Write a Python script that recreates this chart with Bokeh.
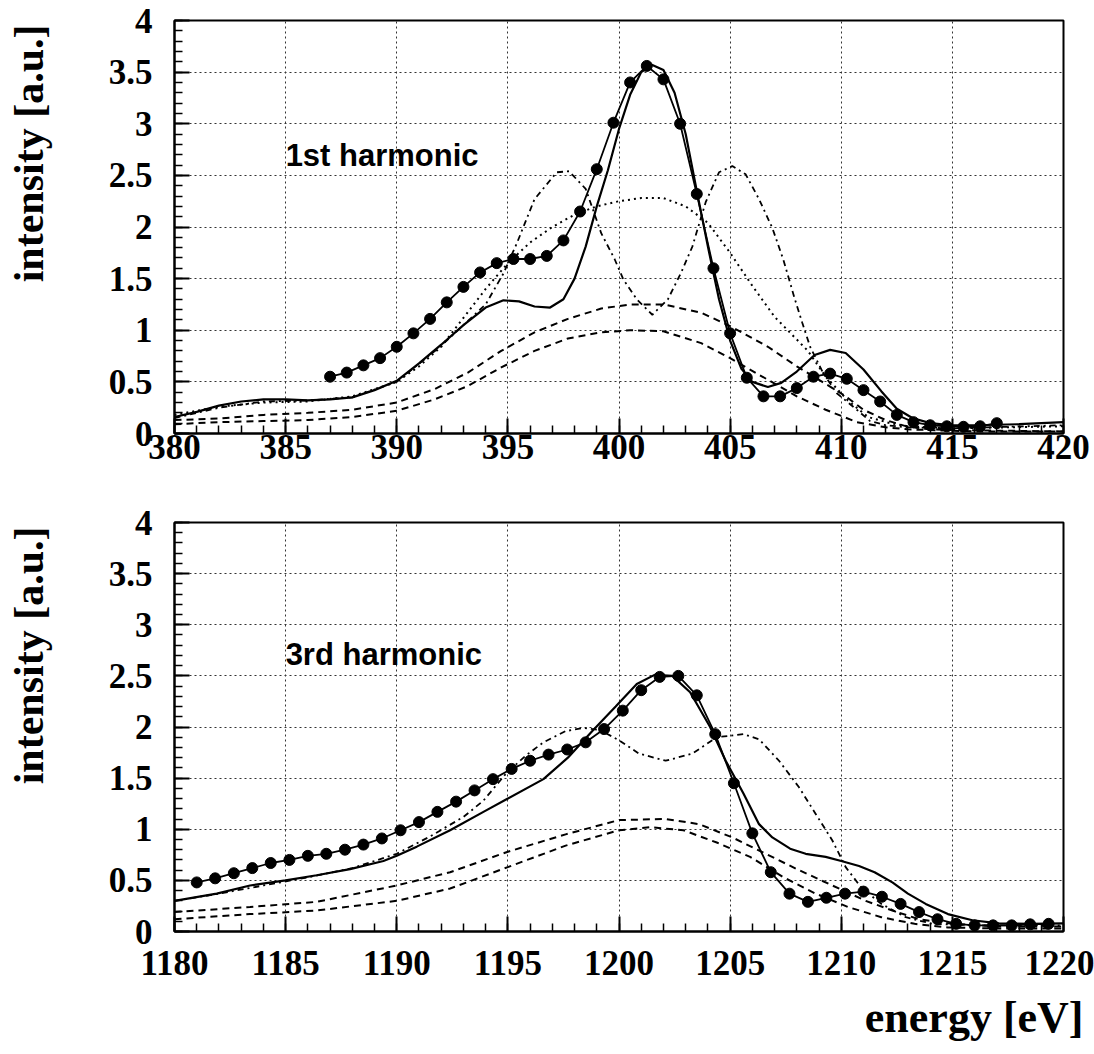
from bokeh.plotting import figure
from bokeh.models import FixedTicker, Label, Title
from bokeh.layouts import column
from bokeh.embed import file_html
from bokeh.resources import INLINE

# ---------------- data: 1st harmonic ----------------
top_pts_e = [387.0, 387.75, 388.5, 389.25, 390.0, 390.75, 391.5, 392.25, 393.0, 393.75,
             394.5, 395.25, 396.0, 396.75, 397.5, 398.25, 399.0, 399.75, 400.5, 401.25,
             402.0, 402.75, 403.5, 404.25, 405.0, 405.75, 406.5, 407.25, 408.0, 408.75,
             409.5, 410.25, 411.0, 411.75, 412.5, 413.25, 414.0, 414.75, 415.5, 416.25, 417.0]
top_pts_i = [0.55, 0.59, 0.66, 0.73, 0.84, 0.97, 1.11, 1.27, 1.42, 1.56,
             1.65, 1.69, 1.69, 1.72, 1.87, 2.15, 2.56, 3.01, 3.40, 3.56,
             3.43, 3.00, 2.32, 1.60, 0.97, 0.54, 0.36, 0.36, 0.44, 0.55,
             0.58, 0.53, 0.42, 0.31, 0.18, 0.11, 0.08, 0.07, 0.065, 0.07, 0.10]

top_sum_e = [380, 381, 382, 383, 384, 385, 386, 387, 388, 389, 390, 391, 392, 393, 394,
             394.8, 395.5, 396.2, 396.9, 397.5, 398, 398.5, 399, 399.5, 400, 400.5, 401,
             401.5, 402, 402.5, 403, 403.5, 404, 404.5, 405, 405.5, 406, 406.7, 407.3, 408,
             408.8, 409.5, 410.2, 411, 411.8, 412.5, 413.2, 414, 415, 416, 418, 420]
top_sum_i = [0.16, 0.21, 0.27, 0.31, 0.33, 0.33, 0.32, 0.33, 0.35, 0.42, 0.51, 0.68, 0.86, 1.05, 1.22,
             1.29, 1.28, 1.23, 1.22, 1.30, 1.50, 1.81, 2.20, 2.55, 2.95, 3.28, 3.50,
             3.57, 3.52, 3.30, 2.90, 2.35, 1.81, 1.30, 0.90, 0.63, 0.50, 0.45, 0.49, 0.60,
             0.76, 0.81, 0.78, 0.62, 0.41, 0.24, 0.15, 0.10, 0.08, 0.08, 0.09, 0.11]

top_dd_e = [380, 382, 384, 386, 388, 390, 392, 393, 394, 394.8, 395.4, 396.2, 397.2, 397.75,
            398.5, 399.2, 399.8, 400.2, 400.8, 401.5, 402.2, 402.8, 403.3, 403.9, 404.5, 405.1,
            405.7, 406.3, 406.9, 407.4, 407.9, 408.25, 408.6, 409.2, 409.8, 410.7, 411.3, 412,
            413, 415, 420]
top_dd_i = [0.15, 0.25, 0.31, 0.32, 0.35, 0.50, 0.85, 1.05, 1.25, 1.55, 1.84, 2.27, 2.53, 2.54,
            2.37, 1.94, 1.69, 1.49, 1.30, 1.15, 1.30, 1.56, 1.81, 2.24, 2.53, 2.59,
            2.51, 2.27, 1.99, 1.68, 1.31, 1.07, 0.84, 0.58, 0.39, 0.23, 0.12, 0.08,
            0.06, 0.05, 0.08]

top_dot_e = [380, 382, 384, 386, 388, 390, 391, 392, 393, 394, 395, 396, 397, 398, 399, 400,
             401, 402, 403, 404, 405, 406, 407, 408, 408.5, 409.3, 410.3, 411.2, 412.2, 413, 415, 420]
top_dot_i = [0.18, 0.26, 0.30, 0.31, 0.36, 0.50, 0.65, 0.84, 1.12, 1.40, 1.65, 1.85, 2.00, 2.12,
             2.20, 2.25, 2.28, 2.28, 2.20, 2.04, 1.75, 1.43, 1.13, 0.91, 0.80, 0.55, 0.32, 0.16,
             0.10, 0.07, 0.05, 0.07]

top_d1_e = [380, 382, 384, 386, 388, 390, 391.7, 393.2, 394.7, 396.2, 397.7, 399.2, 400.5, 402,
            403.7, 405, 406.7, 408, 409, 410.2, 411, 412, 413, 414, 416, 420]
top_d1_i = [0.13, 0.145, 0.18, 0.20, 0.23, 0.30, 0.43, 0.59, 0.80, 0.98, 1.11, 1.21, 1.25, 1.25,
            1.17, 1.04, 0.84, 0.65, 0.52, 0.36, 0.23, 0.13, 0.065, 0.04, 0.03, 0.02]

top_d2_e = [380, 382, 384, 386, 388, 390, 391.7, 393.2, 394.7, 396.2, 397.7, 399.2, 400.5, 402,
            403.7, 405, 406.7, 408, 409.3, 410.7, 412, 413, 416, 420]
top_d2_i = [0.09, 0.11, 0.12, 0.13, 0.16, 0.22, 0.33, 0.46, 0.64, 0.80, 0.92, 0.98, 1.00, 0.99,
            0.875, 0.73, 0.52, 0.36, 0.23, 0.11, 0.06, 0.04, 0.02, 0.02]

# ---------------- data: 3rd harmonic ----------------
bot_pts_e = [1181.0, 1181.83, 1182.67, 1183.5, 1184.33, 1185.17, 1186.0, 1186.83, 1187.67, 1188.5,
             1189.33, 1190.17, 1191.0, 1191.83, 1192.67, 1193.5, 1194.33, 1195.17, 1196.0, 1196.83,
             1197.67, 1198.5, 1199.33, 1200.17, 1201.0, 1201.83, 1202.67, 1203.5, 1204.33, 1205.17,
             1206.0, 1206.83, 1207.67, 1208.5, 1209.33, 1210.17, 1211.0, 1211.83, 1212.67, 1213.5,
             1214.33, 1215.17, 1216.0, 1216.83, 1217.67, 1218.5, 1219.33]
bot_pts_i = [0.48, 0.52, 0.57, 0.62, 0.67, 0.70, 0.74, 0.76, 0.80, 0.85,
             0.91, 0.99, 1.07, 1.17, 1.27, 1.38, 1.49, 1.59, 1.67, 1.73,
             1.78, 1.85, 1.98, 2.16, 2.36, 2.49, 2.50, 2.31, 1.93, 1.45,
             0.96, 0.58, 0.37, 0.29, 0.33, 0.37, 0.39, 0.34, 0.27, 0.19,
             0.12, 0.075, 0.06, 0.06, 0.06, 0.07, 0.075]

bot_sum_e = [1180, 1181.9, 1183.4, 1185, 1186.4, 1187.9, 1189.4, 1190, 1190.9, 1192.4,
             1193.9, 1195, 1196.6, 1197.7, 1198.8, 1199.85, 1200.8, 1201.6, 1202.4, 1203.2,
             1204.1, 1204.8, 1205.6, 1206.3, 1206.9, 1207.7, 1208.4, 1209.3, 1210.0, 1210.8,
             1211.5, 1212.3, 1213.0, 1213.8, 1214.8, 1215.9, 1217.1, 1218.5, 1220]
bot_sum_i = [0.30, 0.37, 0.45, 0.50, 0.55, 0.61, 0.69, 0.74, 0.83, 0.99,
             1.17, 1.30, 1.49, 1.70, 1.96, 2.20, 2.42, 2.51, 2.50, 2.34,
             2.00, 1.67, 1.35, 1.05, 0.92, 0.81, 0.76, 0.73, 0.69, 0.64,
             0.58, 0.48, 0.37, 0.27, 0.17, 0.11, 0.08, 0.075, 0.08]

bot_dd_e = [1180, 1182, 1184, 1186, 1188, 1190, 1191.5, 1193, 1193.9, 1194.9, 1195.8,
            1196.6, 1197.6, 1198.4, 1199.15, 1200, 1200.9, 1202.1, 1203.3, 1204.4, 1205.6,
            1206.3, 1207.2, 1208.1, 1208.85, 1209.6, 1210.2, 1210.9, 1211.8, 1212.9, 1214.1,
            1216, 1220]
bot_dd_i = [0.30, 0.37, 0.45, 0.53, 0.62, 0.76, 0.93, 1.12, 1.28, 1.54, 1.72,
            1.85, 1.96, 1.99, 1.97, 1.87, 1.74, 1.67, 1.74, 1.90, 1.93,
            1.88, 1.67, 1.41, 1.15, 0.89, 0.63, 0.43, 0.27, 0.14, 0.075,
            0.06, 0.06]

bot_d1_e = [1180, 1183.4, 1186.4, 1190, 1192.4, 1195, 1197.6, 1200, 1202.1, 1203.6,
            1205.1, 1206.6, 1208.1, 1209.6, 1211.1, 1212.3, 1213.5, 1215, 1217, 1220]
bot_d1_i = [0.19, 0.24, 0.29, 0.45, 0.58, 0.78, 0.95, 1.09, 1.10, 1.05,
            0.92, 0.76, 0.60, 0.45, 0.30, 0.205, 0.12, 0.075, 0.05, 0.05]

bot_d2_e = [1180, 1183.4, 1186.4, 1190, 1192.4, 1195, 1197.6, 1200, 1201.4, 1202.9,
            1204.4, 1205.9, 1207.4, 1208.85, 1210.3, 1211.8, 1213.3, 1214.8, 1217, 1220]
bot_d2_i = [0.12, 0.17, 0.205, 0.30, 0.42, 0.63, 0.84, 0.99, 1.02, 0.99,
            0.87, 0.73, 0.53, 0.37, 0.24, 0.14, 0.075, 0.04, 0.03, 0.03]

# ---------------- ticks / labels ----------------
y_ticks = [0, 0.5, 1, 1.5, 2, 2.5, 3, 3.5, 4]
y_tick_labels = ["0", "0.5", "1", "1.5", "2", "2.5", "3", "3.5", "4"]
top_x_ticks = [380, 385, 390, 395, 400, 405, 410, 415, 420]
bot_x_ticks = [1180, 1185, 1190, 1195, 1200, 1205, 1210, 1215, 1220]
y_label = "intensity [a.u.]"
x_label = "energy [eV]"
top_title = "1st harmonic"
bot_title = "3rd harmonic"

SERIF = "Liberation Serif"
SANS = "Liberation Sans"


def make_panel(x_ticks, height, border_top, border_bottom, label_standoff, data, title, title_y):
    x0, x1 = x_ticks[0], x_ticks[-1]
    p = figure(width=1094, height=height, x_range=(x0, x1), y_range=(0, 4),
               output_backend="svg", toolbar_location=None,
               min_border_left=174, min_border_right=31,
               min_border_top=border_top, min_border_bottom=border_bottom)
    p.background_fill_color = "white"
    p.border_fill_color = "white"
    p.outline_line_color = "black"
    p.outline_line_width = 2

    p.xaxis.ticker = FixedTicker(ticks=x_ticks, minor_ticks=list(range(x0, x1 + 1)))
    p.yaxis.ticker = FixedTicker(ticks=y_ticks, minor_ticks=[k / 10 for k in range(41)])
    p.yaxis.major_label_overrides = {t: s for t, s in zip(y_ticks, y_tick_labels)}

    for ax in (p.xaxis, p.yaxis):
        ax.axis_line_width = 2
        ax.axis_line_color = "black"
        ax.major_tick_in = 15
        ax.major_tick_out = 0
        ax.minor_tick_in = 8
        ax.minor_tick_out = 0
        ax.major_tick_line_width = 2
        ax.minor_tick_line_width = 1.5
        ax.major_label_text_font = SERIF
        ax.major_label_text_font_style = "bold"
        ax.major_label_text_font_size = "35px"
        ax.major_label_text_color = "black"
    p.xaxis.major_label_standoff = label_standoff
    p.yaxis.major_label_standoff = 22

    p.grid.grid_line_color = "#333333"
    p.grid.grid_line_dash = "2 3"
    p.grid.grid_line_width = 1

    (pe, pi_, se, si, dde, ddi, dote, doti, d1e, d1i, d2e, d2i) = data
    p.line(d1e, d1i, line_color="black", line_width=2, line_dash="7 5")
    p.line(d2e, d2i, line_color="black", line_width=2, line_dash="7 5")
    if dote is not None:
        p.line(dote, doti, line_color="black", line_width=2, line_dash="2 4")
    p.line(dde, ddi, line_color="black", line_width=1.8, line_dash="6 4 2 4")
    p.line(se, si, line_color="black", line_width=2.2)
    p.line(pe, pi_, line_color="black", line_width=1.8)
    p.scatter(pe, pi_, size=11, marker="circle", fill_color="black", line_color="black")

    p.add_layout(Label(x=x0 + 5, y=title_y, text=title, text_font=SANS,
                       text_font_style="bold", text_font_size="31px",
                       text_baseline="middle", text_align="left", text_color="black"))
    # spacer between the tick labels and the vertical axis title
    p.add_layout(Title(text=" ", text_font_size="2px", standoff=50), "left")
    p.add_layout(Title(text=y_label, align="right", offset=4, standoff=0,
                       text_font=SERIF, text_font_style="bold", text_font_size="42px",
                       text_color="black"), "left")
    return p


p1 = make_panel(top_x_ticks, 477, 20, 44, 1,
                (top_pts_e, top_pts_i, top_sum_e, top_sum_i, top_dd_e, top_dd_i,
                 top_dot_e, top_dot_i, top_d1_e, top_d1_i, top_d2_e, top_d2_i),
                top_title, 2.69)
p2 = make_panel(bot_x_ticks, 577, 45, 122, 19,
                (bot_pts_e, bot_pts_i, bot_sum_e, bot_sum_i, bot_dd_e, bot_dd_i,
                 None, None, bot_d1_e, bot_d1_i, bot_d2_e, bot_d2_i),
                bot_title, 2.71)
p2.add_layout(Title(text=x_label, align="right", offset=-20, standoff=26,
                    text_font=SERIF, text_font_style="bold", text_font_size="44px",
                    text_color="black"), "below")

layout = column(p1, p2)
open("out.html", "w").write(file_html(layout, INLINE))
